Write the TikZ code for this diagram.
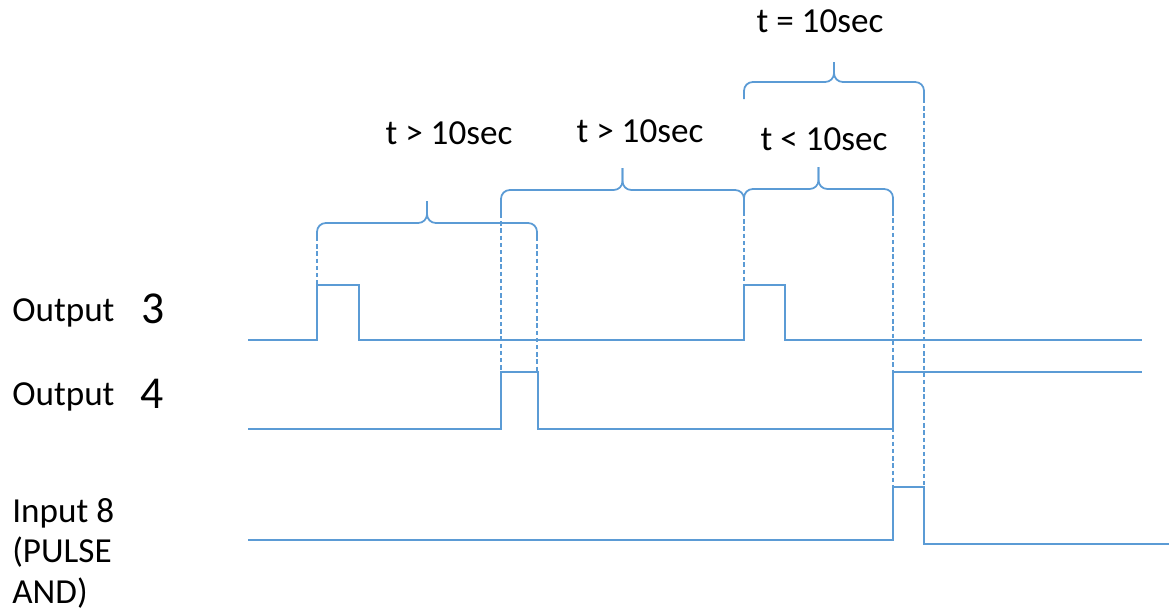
\documentclass[tikz,border=0pt]{standalone}
\usepackage{fontspec}
\setmainfont{Carlito}
\usetikzlibrary{positioning}
\definecolor{sigblue}{RGB}{91,155,213}

% brace with rounded shoulders: x1, x2, y of ends, y of bar, y of tip
\newcommand\timebrace[5]{%
  \draw[sig, rounded corners=5] (#1,#3) -- (#1,#4) -- ({(#1+#2)/2},#4) -- ({(#1+#2)/2},#5);
  \draw[sig, rounded corners=5] (#2,#3) -- (#2,#4) -- ({(#1+#2)/2},#4) -- ({(#1+#2)/2},#5);
}

\begin{document}
\begin{tikzpicture}[
  x=0.02cm, y=-0.02cm,
  sig/.style={draw=sigblue, line width=1pt, line join=miter},
  guide/.style={draw=sigblue, line width=0.9pt, dash pattern=on 2.5pt off 1.6pt},
  lbl/.style={font=\fontsize{20}{23}\selectfont, inner sep=0pt},
  num/.style={font=\fontsize{26}{30}\selectfont, inner sep=0pt},
]
\useasboundingbox (0,0) rectangle (1169,612);

% ---- signal labels ----
\node[lbl, anchor=west] (out3) at (12,313) {Output};
\node[num, anchor=west] (out3n) at (141,309) {3};
\node[lbl, anchor=west] (out4) at (12,397) {Output};
\node[num, anchor=west] (out4n) at (140,394) {4};
\node[lbl, anchor=north west, align=left] (in8) at (12,498) {Input 8\\(PULSE\\AND)};

% ---- waveforms ----
\draw[sig] (248,340) -- (317,340) -- (317,285) -- (359,285) -- (359,340)
  -- (744,340) -- (744,285) -- (785,285) -- (785,340) -- (1142,340);
\draw[sig] (248,429) -- (501,429) -- (501,372) -- (538,372) -- (538,429)
  -- (893,429) -- (893,372) -- (1142,372);
\draw[sig] (248,540) -- (893,540) -- (893,487) -- (924,487) -- (924,544) -- (1169,544);

% ---- guide lines ----
\draw[guide] (317,237) -- (317,285);
\draw[guide] (501,214) -- (501,372);
\draw[guide] (537,237) -- (537,372);
\draw[guide] (744,212) -- (744,285);
\draw[guide] (893,204) -- (893,487);
\draw[guide] (924,99) -- (924,487);

% ---- braces ----
\timebrace{317}{537}{237}{223}{201}
\timebrace{501}{744}{214}{190}{168}
\timebrace{744}{893}{212}{189}{167}
\timebrace{744}{924}{99}{82}{62}

% ---- interval labels ----
\node[lbl] (gap1) at (449,133) {t > 10sec};
\node[lbl] (gap2) at (640,131) {t > 10sec};
\node[lbl] (gap3) at (824,139) {t < 10sec};
\node[lbl] (gap4) at (820,21) {t = 10sec};
\end{tikzpicture}
\end{document}
